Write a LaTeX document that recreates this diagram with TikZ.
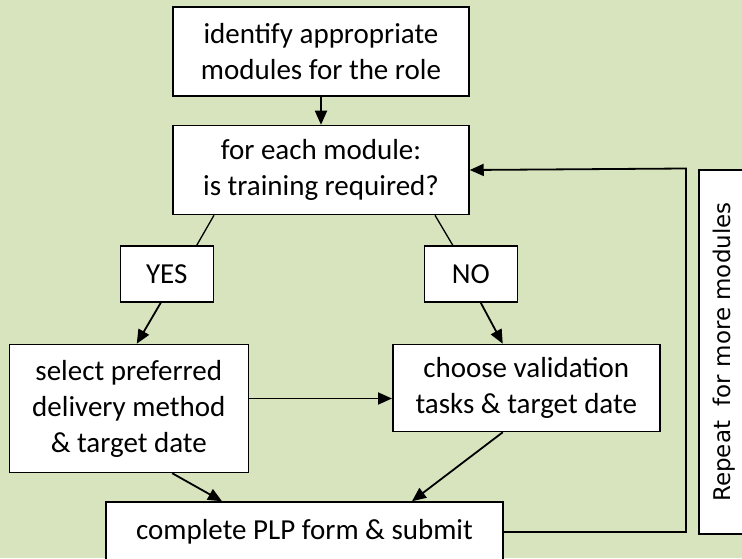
\documentclass[tikz,border=0pt]{standalone}
\usepackage{fontspec}
\setmainfont{Carlito}
\newfontfamily\repfont{DejaVu Sans}
\usepackage{tikz}
\usetikzlibrary{positioning, arrows.meta}
\definecolor{sheet}{HTML}{D7E4BD}
\tikzset{
  stepbox/.style = {rectangle, draw=black, line width=1.5pt, fill=white,
                    inner sep=0pt, align=center,
                    font=\fontsize{29}{36}\selectfont},
  answer/.style  = {stepbox, minimum width=93pt, minimum height=56pt},
  arr/.style     = {-{Triangle[length=14pt,width=12pt]}, line width=1.8pt},
  link/.style    = {line width=1.3pt},
}

\begin{document}
\begin{tikzpicture}[x=1pt, y=1pt]

  \fill[sheet] (0,0) rectangle (742,558);
  \useasboundingbox (0,0) rectangle (742,558);
  \clip (0,0) rectangle (742,558);

  \node[stepbox, minimum width=296pt, minimum height=89pt] (ident) at (321,506.5)
        {identify appropriate\\modules for the role};
  \node[stepbox, minimum width=296pt, minimum height=89pt, below=28pt of ident] (chk)
        {for each module:\\is training required?};

  \node[answer, below=30pt of chk.south west, xshift=-5.5pt] (yes) {YES};
  \node[answer, below=30pt of chk.south east, xshift=1pt]    (no)  {NO};

  \node[stepbox, minimum width=239pt, minimum height=128pt,
        below=41pt of yes, xshift=-38pt] (sel)
        {select preferred\\delivery method\\\& target date};
  \node[stepbox, minimum width=267pt, minimum height=87pt,
        below=41pt of no, xshift=55.5pt] (cho)
        {choose validation\\tasks \& target date};

  \node[stepbox, minimum width=397pt, minimum height=60pt] (cmp) at (304.5,26)
        {complete PLP form \& submit};

  \node[stepbox, rotate=90, minimum width=364pt, minimum height=51pt,
        line width=1.2pt, font=\repfont\fontsize{23}{28}\selectfont] (rep) at (724.5,206)
        {Repeat\ \ for more modules};

  \coordinate (back) at (686,389.5);

  \draw[arr]  (ident.south) -- (chk.north);
  \draw[link] ([xshift=-107pt]chk.south) -- ([xshift=30pt]yes.north);
  \draw[link] ([xshift=114pt]chk.south) -- ([xshift=-18pt]no.north);
  \draw[arr]  ([xshift=-6pt]yes.south) -- ([xshift=8pt]sel.north);
  \draw[arr]  ([xshift=10pt]no.south) -- ([xshift=-23.5pt]cho.north);
  \draw[arr]  ([yshift=10pt]sel.east) -- ([yshift=10pt]sel.east -| cho.west);
  \draw[arr]  ([xshift=43.5pt]sel.south) -- ([xshift=-82.5pt]cmp.north);
  \draw[arr]  ([xshift=-23.5pt]cho.south) -- ([xshift=107.5pt]cmp.north);
  \draw[arr]  (cmp.east) -| (back) -- (chk.east);

\end{tikzpicture}
\end{document}
